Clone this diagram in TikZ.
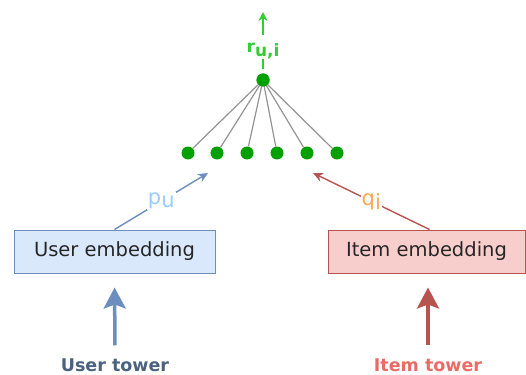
\documentclass[tikz,border=0pt]{standalone}
\usepackage{fontspec}
\setmainfont{DejaVu Sans}
\usetikzlibrary{arrows.meta}

\definecolor{userfill}{HTML}{DAE8FC}
\definecolor{userline}{HTML}{6C8EBF}
\definecolor{itemfill}{HTML}{F8CECC}
\definecolor{itemline}{HTML}{B85450}
\definecolor{dotgreen}{HTML}{00A000}
\definecolor{scoregreen}{HTML}{33CC33}
\definecolor{pcolor}{HTML}{99CCFF}
\definecolor{qcolor}{HTML}{FFA94D}
\definecolor{usertxt}{HTML}{4A6280}
\definecolor{itemtxt}{HTML}{EA6B66}

\begin{document}
\begin{tikzpicture}[x=1pt,y=-1pt,
  dot/.style={circle,fill=dotgreen,inner sep=0pt,minimum size=13pt},
  embbox/.style={draw,line width=1pt,minimum height=43pt,inner sep=0pt,
    text=black!85,font=\fontsize{19.5}{21}\selectfont},
  tower/.style={line width=3.5pt,-{Stealth[length=21pt,width=22pt,inset=4pt]}},
  vecarrow/.style={line width=1.4pt,-{Stealth[length=10pt,width=9pt]}},
  towerlabel/.style={inner sep=0pt,font=\fontsize{17.5}{19}\selectfont\bfseries}]
  \useasboundingbox (0,0) rectangle (526,374);

  % Draw the dot product layer
  \node[dot] (top) at (263,80) {};
  \foreach \i/\x in {1/188,2/217,3/247,4/277,5/307,6/337} {
    \node[dot] (d\i) at (\x,153) {};
    \draw[gray!85, line width=1.2pt] (d\i) -- (top.center);
  }
  \node[dot] at (top) {};

  % Score on top
  \node[inner sep=0pt, text=scoregreen, font=\fontsize{17}{19}\selectfont\bfseries]
    (score) at (263,51) {r\raisebox{-0.35ex}{u,i}};
  \coordinate (out) at (263,12);
  \draw[scoregreen, line width=1.4pt] (top.north) ++(0,-4) -- (score.south);
  \draw[scoregreen, line width=1.4pt, -{Stealth[length=9pt,width=9pt]}] (score.north) ++(0,-8) -- (out);

  % Embeddings
  \node[embbox, fill=userfill, draw=userline, minimum width=201pt] (user) at (114.5,251.5) {User embedding};
  \node[embbox, fill=itemfill, draw=itemline, minimum width=197pt] (item) at (426.5,251.5) {Item embedding};

  \coordinate (pin) at (208,173);
  \coordinate (qin) at (313,173);
  \draw[vecarrow, userline] (user.north) -- node[fill=white, inner sep=1pt, text=pcolor,
    font=\fontsize{21}{22}\selectfont] {p\raisebox{-0.25ex}{u}} (pin);
  \draw[vecarrow, itemline] ([xshift=3pt]item.north) -- node[fill=white, inner sep=1pt, text=qcolor,
    font=\fontsize{21}{22}\selectfont] {q\raisebox{-0.35ex}{i}} (qin);

  % Towers
  \node[towerlabel, text=usertxt] (utower) at (115,365) {User tower};
  \node[towerlabel, text=itemtxt] (itower) at (428,365) {Item tower};
  \draw[tower, userline, shorten <=13pt, shorten >=14pt] (utower.north) -- (user.south);
  \draw[tower, itemline, shorten <=13pt, shorten >=14pt] (itower.north) -- (item.south -| itower.north);
\end{tikzpicture}
\end{document}
